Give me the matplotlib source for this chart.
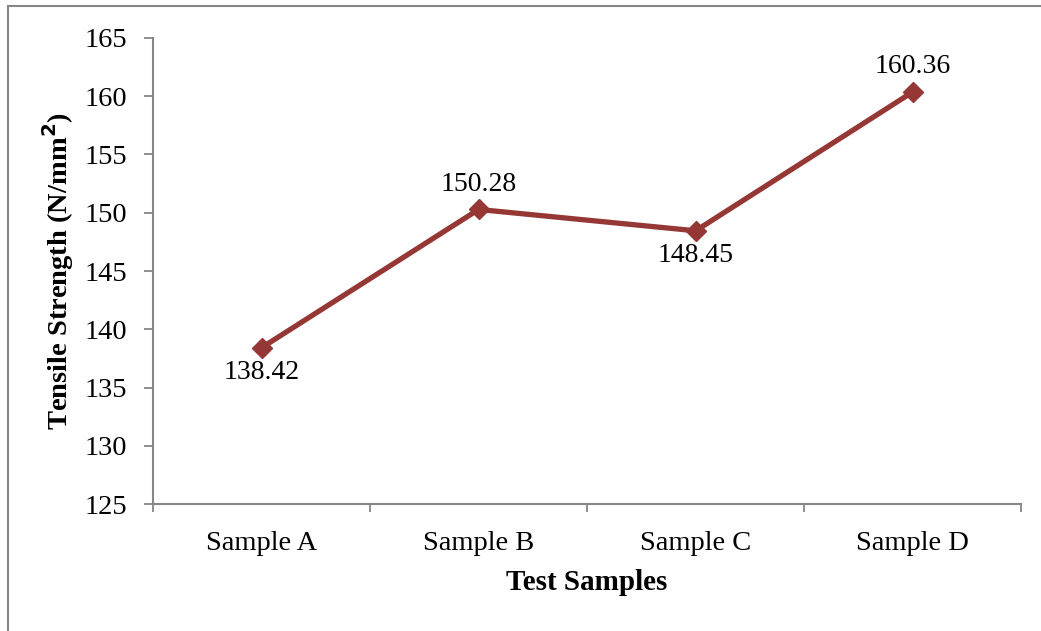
import matplotlib
matplotlib.use("Agg")
import matplotlib.pyplot as plt
import matplotlib.patches as patches

samples = ["Sample A", "Sample B", "Sample C", "Sample D"]
strength = [138.42, 150.28, 148.45, 160.36]
label_side = ["below", "above", "below", "above"]
y_ticks = [125, 130, 135, 140, 145, 150, 155, 160, 165]

plt.rcParams['font.family'] = ['Liberation Serif', 'DejaVu Serif']

line_color = '#953735'
axis_gray = '#868686'

fig = plt.figure(figsize=(10.41, 6.31), dpi=100)
ax = fig.add_axes([0.147, 0.201, 0.834, 0.739])

x = [i + 0.5 for i in range(len(samples))]
ax.plot(x, strength, color=line_color, lw=3.8, marker='D', ms=10.5,
        mec=line_color, mfc=line_color, solid_joinstyle='round')

for xi, v, side in zip(x, strength, label_side):
    dy = -25 if side == 'below' else 25
    ax.annotate('{:.2f}'.format(v), (xi, v), xytext=(0, dy),
                textcoords='offset pixels', ha='center', va='center',
                fontsize=20)

ax.set_xlim(0, len(samples))
ax.set_ylim(125, 165)
ax.set_yticks(y_ticks)
ax.set_yticklabels([str(t) for t in y_ticks])
ax.set_xticks(range(len(samples) + 1))
ax.set_xticklabels([])
ax.set_xticks(x, minor=True)
ax.set_xticklabels(samples, minor=True)

ax.tick_params(axis='y', which='major', length=6.5, width=1.3, color=axis_gray,
               labelsize=20.5, pad=12)
ax.tick_params(axis='x', which='major', length=6, width=1.3, color=axis_gray)
ax.tick_params(axis='x', which='minor', length=0, labelsize=20.5, pad=19)

for s in ['top', 'right']:
    ax.spines[s].set_visible(False)
for s in ['left', 'bottom']:
    ax.spines[s].set_color(axis_gray)
    ax.spines[s].set_linewidth(1.5)

ax.set_xlabel('Test Samples', fontsize=21, fontweight='bold', labelpad=10)
ax.set_ylabel('Tensile Strength (N/mm$^\\mathbf{2}$)', fontsize=20.5,
              fontweight='bold', labelpad=6)

# chart-area frame, partly running off the canvas
frame = patches.Rectangle((8 / 1041, -0.1), 1.2, 1.1 - 6 / 631,
                          transform=fig.transFigure, fill=False,
                          edgecolor=axis_gray, lw=1.5)
fig.patches.append(frame)

fig.savefig('out.png', dpi=100)
